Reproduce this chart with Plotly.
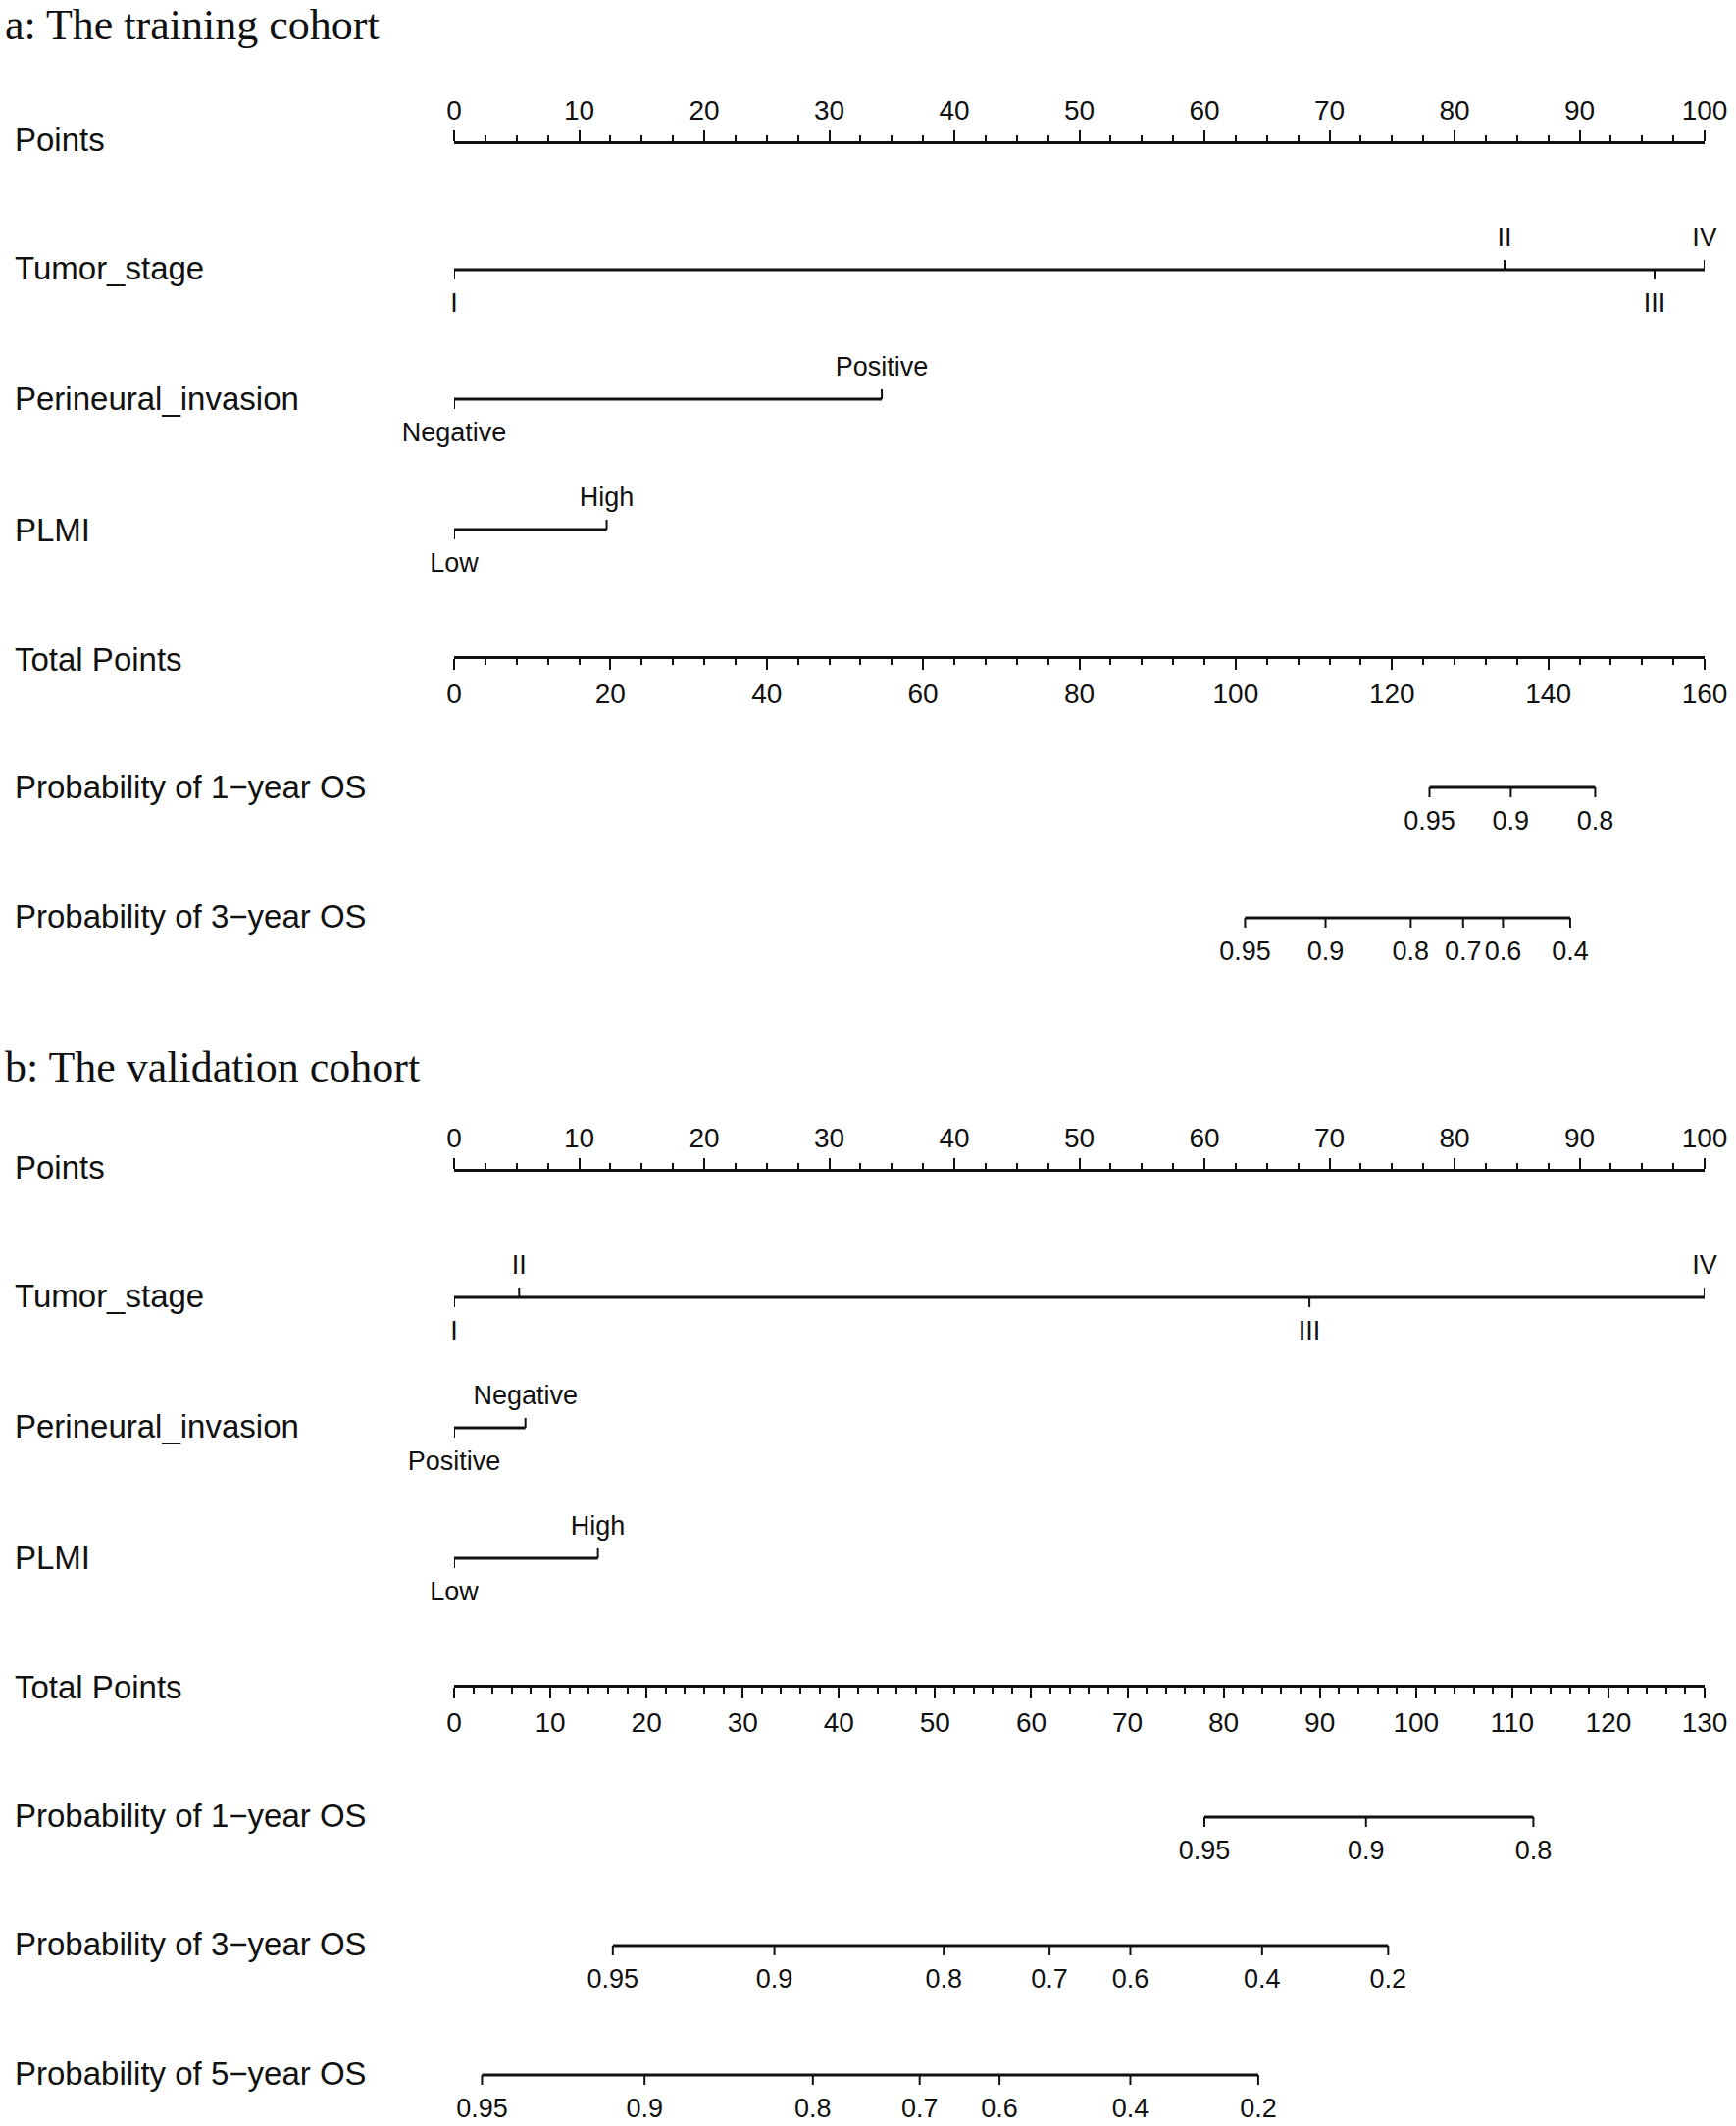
import plotly.graph_objects as go

W, H = 1770, 2168

# ---------------- data ----------------
TUMOR_LEVELS = ["I", "II", "III", "IV"]
PNI_LEVELS_A = ["Negative", "Positive"]
PNI_LEVELS_B = ["Positive", "Negative"]
PLMI_LEVELS = ["Low", "High"]

# panel a: training cohort (points scale 0-100, total 0-160)
TUMOR_PTS_A = [0, 84, 96, 100]
PNI_PTS_A = [0, 34.2]
PLMI_PTS_A = [0, 12.2]
OS1_PROB_A = [0.95, 0.9, 0.8]
OS1_TOT_A = [124.8, 135.2, 146.0]
OS3_PROB_A = [0.95, 0.9, 0.8, 0.7, 0.6, 0.4]
OS3_TOT_A = [101.2, 111.5, 122.4, 129.1, 134.2, 142.8]

# panel b: validation cohort (points scale 0-100, total 0-130)
TUMOR_PTS_B = [0, 5.2, 68.4, 100]
PNI_PTS_B = [0, 5.7]
PLMI_PTS_B = [0, 11.5]
OS1_PROB_B = [0.95, 0.9, 0.8]
OS1_TOT_B = [78.0, 94.8, 112.2]
OS3_PROB_B = [0.95, 0.9, 0.8, 0.7, 0.6, 0.4, 0.2]
OS3_TOT_B = [16.5, 33.3, 50.9, 61.9, 70.3, 84.0, 97.1]
OS5_PROB_B = [0.95, 0.9, 0.8, 0.7, 0.6, 0.4, 0.2]
OS5_TOT_B = [2.9, 19.8, 37.3, 48.4, 56.7, 70.3, 83.6]

POINTS_RANGE = [0, 100]
TOTAL_RANGE_A = [0, 160]
TOTAL_RANGE_B = [0, 130]

# ---------------- layout constants (pixel rows) ----------------
ROW_A = dict(points=145, tumor=275, pni=407, plmi=540, total=670, os1=803, os3=936)
ROW_B = dict(points=1193, tumor=1323, pni=1456, plmi=1589, total=1719, os1=1853, os3=1984, os5=2116)
LABEL_Y_A = dict(points=142, tumor=273, pni=406, plmi=540, total=672, os1=802, os3=934)
LABEL_Y_B = dict(points=1190, tumor=1321, pni=1454, plmi=1588, total=1720, os1=1851, os3=1982, os5=2114)
TITLE_Y = dict(a=25, b=1088)
X0_PX, X1_PX = 463, 1738
DOMAIN = [X0_PX / W, X1_PX / W]
SANS = "Liberation Sans, Arial, Helvetica, sans-serif"
SERIF = "Liberation Serif, Times New Roman, serif"
INK = "#111111"
LBL_SIZE = 33
TICK_SIZE = 28
CAT_SIZE = 27
TITLE_SIZE = 44
TICKLEN = 10
OFF_ABOVE = 31
OFF_BELOW = 36
LINE_W = 2.8
TICK_W = 2

fig = go.Figure()


def add_scale(xref, yrow, values, labels, sides):
    """Draw a nomogram row: line between extreme values, ticks, labels.
    sides: +1 label/tick above, -1 below."""
    fig.add_trace(go.Scatter(x=[min(values), max(values)], y=[yrow, yrow], xaxis=xref, yaxis="y",
                             mode="lines", line=dict(color=INK, width=LINE_W), cliponaxis=False,
                             hoverinfo="skip", showlegend=False))
    tx, ty = [], []
    for v, s in zip(values, sides):
        tx += [v, v, None]
        ty += [yrow, yrow - s * TICKLEN, None]
    fig.add_trace(go.Scatter(x=tx, y=ty, xaxis=xref, yaxis="y", mode="lines", cliponaxis=False,
                             line=dict(color=INK, width=TICK_W), hoverinfo="skip", showlegend=False))
    fig.add_trace(go.Scatter(x=values, y=[yrow - (OFF_ABOVE if s > 0 else -OFF_BELOW) for s in sides],
                             xaxis=xref, yaxis="y", cliponaxis=False,
                             mode="text", text=labels, textposition="middle center",
                             textfont=dict(family=SANS, size=CAT_SIZE, color=INK),
                             hoverinfo="skip", showlegend=False))


def alternating(n):
    return [-1 if i % 2 == 0 else 1 for i in range(n)]


def prob_labels(probs):
    return [f"{p:g}" for p in probs]


# panel a
add_scale("x", ROW_A["tumor"], TUMOR_PTS_A, TUMOR_LEVELS, alternating(4))
add_scale("x", ROW_A["pni"], PNI_PTS_A, PNI_LEVELS_A, alternating(2))
add_scale("x", ROW_A["plmi"], PLMI_PTS_A, PLMI_LEVELS, alternating(2))
add_scale("x2", ROW_A["os1"], OS1_TOT_A, prob_labels(OS1_PROB_A), [-1] * len(OS1_TOT_A))
add_scale("x2", ROW_A["os3"], OS3_TOT_A, prob_labels(OS3_PROB_A), [-1] * len(OS3_TOT_A))

# panel b
add_scale("x3", ROW_B["tumor"], TUMOR_PTS_B, TUMOR_LEVELS, alternating(4))
add_scale("x3", ROW_B["pni"], PNI_PTS_B, PNI_LEVELS_B, alternating(2))
add_scale("x3", ROW_B["plmi"], PLMI_PTS_B, PLMI_LEVELS, alternating(2))
add_scale("x4", ROW_B["os1"], OS1_TOT_B, prob_labels(OS1_PROB_B), [-1] * len(OS1_TOT_B))
add_scale("x4", ROW_B["os3"], OS3_TOT_B, prob_labels(OS3_PROB_B), [-1] * len(OS3_TOT_B))
add_scale("x4", ROW_B["os5"], OS5_TOT_B, prob_labels(OS5_PROB_B), [-1] * len(OS5_TOT_B))


def axis(rng, ypx, side, dtick, minor_dtick, overlay=None):
    d = dict(range=rng, domain=DOMAIN, anchor="free", position=1 - ypx / H, side=side,
             showline=True, linecolor=INK, linewidth=LINE_W, showgrid=False, zeroline=False,
             ticks="outside", ticklen=11, tickwidth=TICK_W, tickcolor=INK, automargin=False,
             tick0=0, dtick=dtick, tickfont=dict(family=SANS, size=TICK_SIZE, color=INK),
             minor=dict(ticks="outside", dtick=minor_dtick, tick0=0, ticklen=6,
                        tickwidth=TICK_W, tickcolor=INK, showgrid=False),
             fixedrange=True)
    if overlay:
        d["overlaying"] = overlay
    return d


fig.update_layout(
    width=W, height=H, autosize=False,
    margin=dict(l=0, r=0, t=0, b=0, pad=0, autoexpand=False),
    paper_bgcolor="white", plot_bgcolor="white",
    xaxis=axis(POINTS_RANGE, ROW_A["points"], "top", 10, 2.5),
    xaxis2=axis(TOTAL_RANGE_A, ROW_A["total"], "bottom", 20, 4, "x"),
    xaxis3=axis(POINTS_RANGE, ROW_B["points"], "top", 10, 2.5, "x"),
    xaxis4=axis(TOTAL_RANGE_B, ROW_B["total"], "bottom", 10, 2, "x"),
    yaxis=dict(range=[H, 0], domain=[0, 1], visible=False, fixedrange=True),
)

# row labels
ROW_LABELS_A = [("points", "Points"), ("tumor", "Tumor_stage"), ("pni", "Perineural_invasion"),
                ("plmi", "PLMI"), ("total", "Total Points"), ("os1", "Probability of 1\u2212year OS"),
                ("os3", "Probability of 3\u2212year OS")]
ROW_LABELS_B = ROW_LABELS_A + [("os5", "Probability of 5\u2212year OS")]

for rows, labels in ((LABEL_Y_A, ROW_LABELS_A), (LABEL_Y_B, ROW_LABELS_B)):
    for key, txt in labels:
        fig.add_annotation(x=13 / W, xref="paper", y=rows[key], yref="y", text=txt,
                           showarrow=False, xanchor="left", yanchor="middle",
                           font=dict(family=SANS, size=LBL_SIZE, color=INK))

for key, txt in (("a", "a: The training cohort"), ("b", "b: The validation cohort")):
    fig.add_annotation(x=3 / W, xref="paper", y=TITLE_Y[key], yref="y", text=txt,
                       showarrow=False, xanchor="left", yanchor="middle",
                       font=dict(family=SERIF, size=TITLE_SIZE, color=INK))

fig.write_html("out.html", config={"responsive": False, "displayModeBar": False},
               post_script="document.body.style.margin='0';document.body.style.overflow='hidden';")
